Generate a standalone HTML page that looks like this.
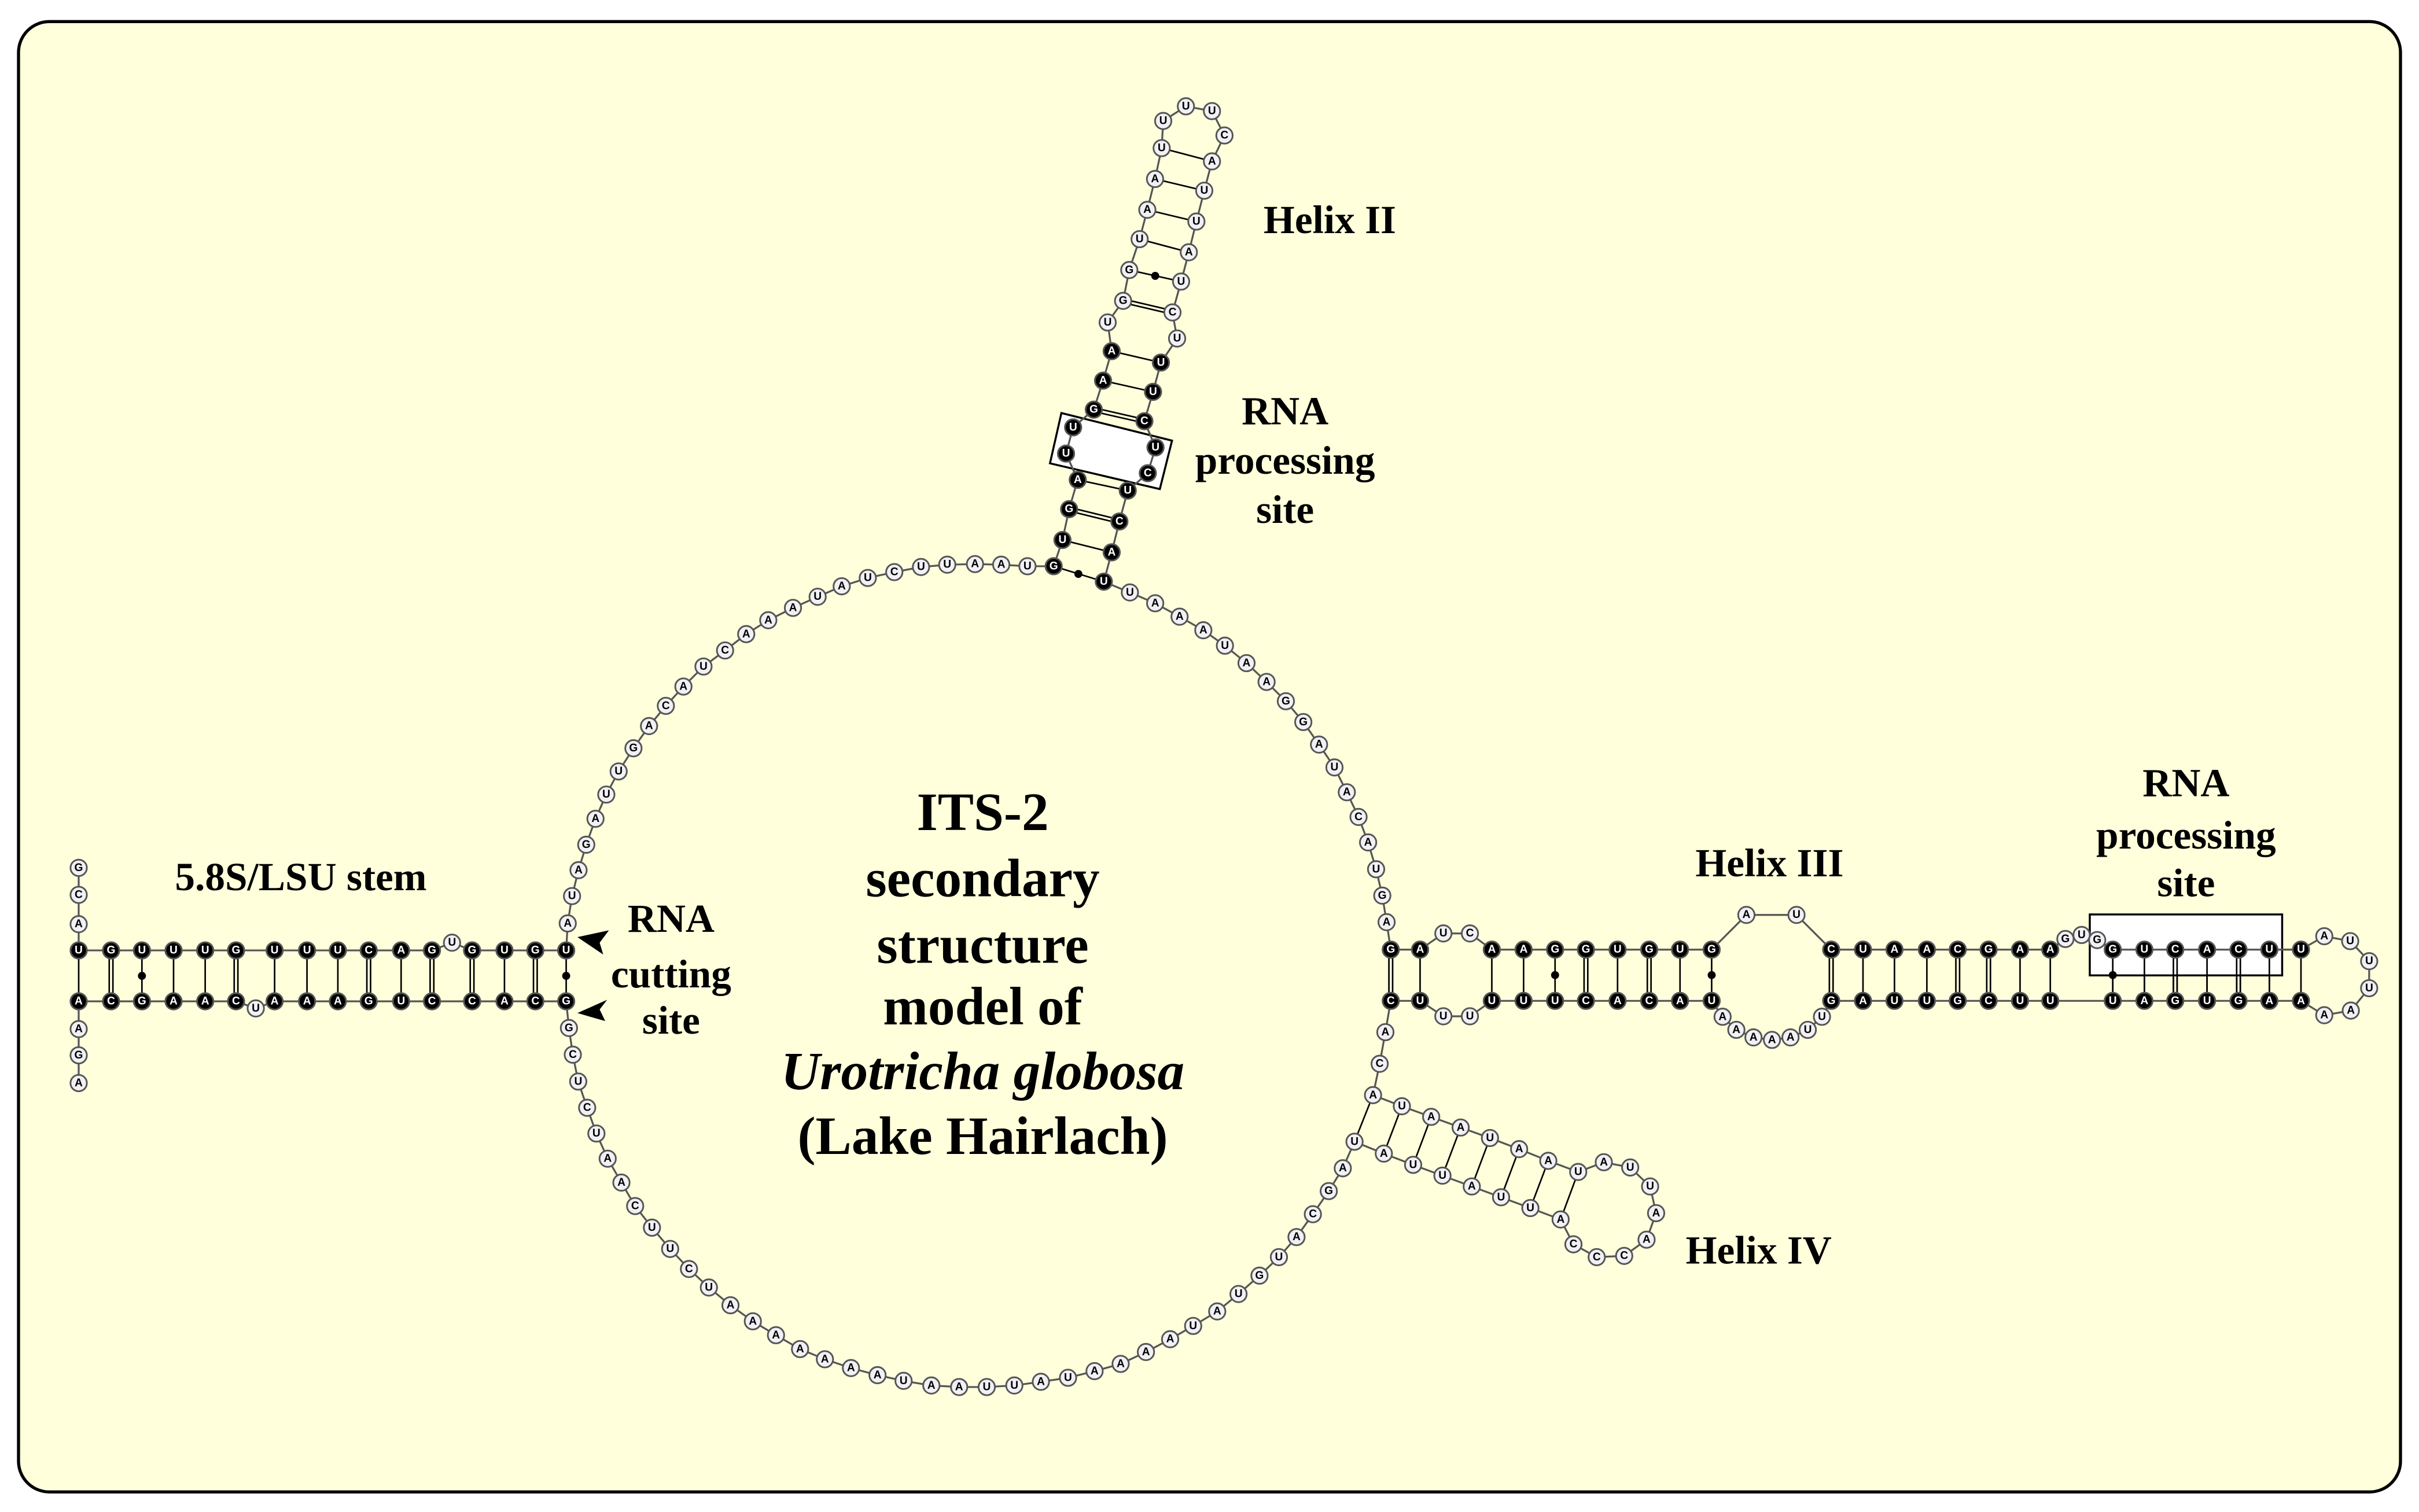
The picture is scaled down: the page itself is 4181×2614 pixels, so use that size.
<!DOCTYPE html>
<html><head><meta charset="utf-8"><style>
html,body{margin:0;padding:0;background:#fff;}
svg{display:block;}
.w circle{r:5.3px;fill:#f0f0f5;stroke:#555;stroke-width:1.1;}
.b circle{r:5.3px;fill:#000;stroke:#555;stroke-width:1.1;}
.w text,.b text{font-family:"Liberation Sans",sans-serif;font-weight:bold;font-size:7.2px;text-anchor:middle;dominant-baseline:central;}
.w text{fill:#000;}
.b text{fill:#fff;}
.pr line{stroke:#000;stroke-width:1;}
.dot{fill:#000;}
.lab{font-family:"Liberation Serif",serif;font-weight:bold;font-size:26px;text-anchor:middle;fill:#000;}
.tit{font-family:"Liberation Serif",serif;font-weight:bold;font-size:35px;text-anchor:middle;fill:#000;}
</style></head><body>
<svg width="4181" height="2614" viewBox="0 0 1568 980" preserveAspectRatio="none" xmlns="http://www.w3.org/2000/svg">
<rect x="0" y="0" width="1568" height="980" fill="#fff"/>
<rect x="12" y="14" width="1544" height="953" rx="20" ry="20" fill="#ffffdc" stroke="#000" stroke-width="2"/>

<!-- backbone -->
<polyline fill="none" stroke="#555" stroke-width="1.2" points="
51,562.5 51,580 51,599 51,616 72,616 92,616 112.5,616 133,616 153,616 178,616 199,616 219,616 239,616 260,616 280,616 293,611 306,616 327,616 347,616 367,616
368,598.5 370.8,580.8 375,564 380,547.5 386,530.7 393,515 401,500 410.6,485 420.7,470.6 431.6,457.5 443,445 456,432 470,421.6 483.7,411 498,402 514,394 530,386.8 545.6,380 562.5,374.6 579.7,370.8 597,367.5 614,366 632,365.6 649,366 666,367
683,367 688.7,350 693,330 698.6,311 691,294 695.6,277 709,265.5 715,246.7 720.6,227.6 718,209 728,195 732,175 738.7,155 743.7,136 748.7,116 753,96 754,78.4 768.7,68.9 785.6,72 793.7,87.8 785.6,104.6 780.6,123.6 775.5,143.6 770.6,163.5 765.6,182.5 760,202.5 763,219.4 752.5,235 747.4,254 741.8,273 749,290 744,306.7 731,318 725.6,338 720.6,358 715.5,377
732.4,384 748.8,391 764.6,399.7 780,408.5 794,418.5 808,429.8 821,442 833.5,454.5 844.8,468 855,482.6 865,497.4 873,513.5 880.6,529.5 886.8,546 892,563.4 896,580.5 898.8,597.7
901.5,615.5 920.5,615.5 935.6,605 952.8,605 967,615.5 987.6,615.5 1008,615.5 1028,615.5 1048.5,615.5 1069,615.5 1089,615.5 1109.5,615.5 1132,593 1164.5,593 1187,615.5 1207.6,615.5 1228,615.5 1249,615.5 1269,615.5 1289,615.5 1309.4,615.5 1329,615.5 1338.8,608.6 1349.3,606 1359.4,609.3 1369.5,615.5 1390,615.5 1410,615.5 1430.6,615.5 1451,615.5 1471,615.5 1491.5,615.5
1506.6,606.8 1523.4,610 1535.7,623 1535.7,640.5 1523.8,655 1506.6,658
1491.5,648.7 1471,648.7 1451,648.7 1430.6,648.7 1410,648.7 1390,648.7 1369.5,648.7 1329,648.7 1309.4,648.7 1289,648.7 1269,648.7 1249,648.7 1228,648.7 1207.6,648.7 1187,648.7 1181,659 1171.8,667.5 1160.6,672.4 1148.6,674 1136.6,672.4 1125.5,667.5 1116.6,659 1109.5,648.7 1089,648.7 1069,648.7 1048.5,648.7 1028,648.7 1008,648.7 987.6,648.7 967,648.7 952.8,658.7 935.6,658.7 920.5,648.7 901.5,648.7
898,669 894.3,689.5 890,709.8 908.7,717 927.7,723.9 946.8,730.8 965.8,737.6 984.7,744.8 1003.6,752.4 1023,759.6 1039.6,753.3 1056.7,756.7 1069.6,769 1073.5,786.3 1067.3,803.5 1052.8,814 1035,814.8 1019.9,806.5 1011.6,790.4 992,783 973,776 954,769 935,762 916,755 897,747.7 878,740 870.4,757.2 861.3,772
851,787 840.4,801.8 829,814.8 816.4,826.8 802.8,838.7 789,850 773.4,859.4 758.5,868 742.8,876.3 726.4,884 709.5,888.7 692.3,893 674.7,895.6 657.5,898 639.6,899 621.7,899 603.7,898 585.7,895 568.8,891.3 551.6,886.7 534.7,881 518.6,874.4 503,865.4 488,856.4 473.5,846 459.5,834.5 446.6,822.5 434.4,809.5 422.6,795.7 411.7,781.7 402.8,766.5 393.9,751 386.6,734.7 380.6,718 374.8,701 371.3,683.6 368.8,666.3
367,649 347,649 327,649 306,649 280,649 260,649 239,649 219,649 199,649 178,649 165.8,653.6 153,649 133,649 112.5,649 92,649 72,649 51,649 51,667 51,684 51,702"/>

<!-- pairs -->
<g class="pr">
<!-- left stem -->
<line x1="51" y1="616" x2="51" y2="649"/>
<line x1="70.8" y1="616" x2="70.8" y2="649"/><line x1="73.2" y1="616" x2="73.2" y2="649"/>
<line x1="92" y1="616" x2="92" y2="649"/>
<line x1="112.5" y1="616" x2="112.5" y2="649"/>
<line x1="133" y1="616" x2="133" y2="649"/>
<line x1="151.8" y1="616" x2="151.8" y2="649"/><line x1="154.2" y1="616" x2="154.2" y2="649"/>
<line x1="178" y1="616" x2="178" y2="649"/>
<line x1="199" y1="616" x2="199" y2="649"/>
<line x1="219" y1="616" x2="219" y2="649"/>
<line x1="237.8" y1="616" x2="237.8" y2="649"/><line x1="240.2" y1="616" x2="240.2" y2="649"/>
<line x1="260" y1="616" x2="260" y2="649"/>
<line x1="278.8" y1="616" x2="278.8" y2="649"/><line x1="281.2" y1="616" x2="281.2" y2="649"/>
<line x1="304.8" y1="616" x2="304.8" y2="649"/><line x1="307.2" y1="616" x2="307.2" y2="649"/>
<line x1="327" y1="616" x2="327" y2="649"/>
<line x1="345.8" y1="616" x2="345.8" y2="649"/><line x1="348.2" y1="616" x2="348.2" y2="649"/>
<line x1="367" y1="616" x2="367" y2="649"/>
<!-- helix II -->
<line x1="683" y1="367" x2="715.5" y2="377"/>
<line x1="688.7" y1="350" x2="720.6" y2="358"/>
<line x1="693" y1="328.8" x2="725.6" y2="336.8"/><line x1="693" y1="331.2" x2="725.6" y2="339.2"/>
<line x1="698.6" y1="311" x2="731" y2="318"/>
<line x1="709" y1="264.3" x2="741.8" y2="271.8"/><line x1="709" y1="266.7" x2="741.8" y2="274.2"/>
<line x1="715" y1="246.7" x2="747.4" y2="254"/>
<line x1="720.6" y1="227.6" x2="752.5" y2="235"/>
<line x1="728" y1="193.8" x2="760" y2="201.3"/><line x1="728" y1="196.2" x2="760" y2="203.7"/>
<line x1="732" y1="175" x2="765.6" y2="182.5"/>
<line x1="738.7" y1="155" x2="770.6" y2="163.5"/>
<line x1="743.7" y1="136" x2="775.5" y2="143.6"/>
<line x1="748.7" y1="116" x2="780.6" y2="123.6"/>
<line x1="753" y1="96" x2="785.6" y2="104.6"/>
<!-- helix III -->
<line x1="900.3" y1="615.5" x2="900.3" y2="648.7"/><line x1="902.7" y1="615.5" x2="902.7" y2="648.7"/>
<line x1="920.5" y1="615.5" x2="920.5" y2="648.7"/>
<line x1="967" y1="615.5" x2="967" y2="648.7"/>
<line x1="987.6" y1="615.5" x2="987.6" y2="648.7"/>
<line x1="1008" y1="615.5" x2="1008" y2="648.7"/>
<line x1="1026.8" y1="615.5" x2="1026.8" y2="648.7"/><line x1="1029.2" y1="615.5" x2="1029.2" y2="648.7"/>
<line x1="1048.5" y1="615.5" x2="1048.5" y2="648.7"/>
<line x1="1067.8" y1="615.5" x2="1067.8" y2="648.7"/><line x1="1070.2" y1="615.5" x2="1070.2" y2="648.7"/>
<line x1="1089" y1="615.5" x2="1089" y2="648.7"/>
<line x1="1109.5" y1="615.5" x2="1109.5" y2="648.7"/>
<line x1="1185.8" y1="615.5" x2="1185.8" y2="648.7"/><line x1="1188.2" y1="615.5" x2="1188.2" y2="648.7"/>
<line x1="1207.6" y1="615.5" x2="1207.6" y2="648.7"/>
<line x1="1228" y1="615.5" x2="1228" y2="648.7"/>
<line x1="1249" y1="615.5" x2="1249" y2="648.7"/>
<line x1="1267.8" y1="615.5" x2="1267.8" y2="648.7"/><line x1="1270.2" y1="615.5" x2="1270.2" y2="648.7"/>
<line x1="1287.8" y1="615.5" x2="1287.8" y2="648.7"/><line x1="1290.2" y1="615.5" x2="1290.2" y2="648.7"/>
<line x1="1309.4" y1="615.5" x2="1309.4" y2="648.7"/>
<line x1="1329" y1="615.5" x2="1329" y2="648.7"/>
<line x1="1369.5" y1="615.5" x2="1369.5" y2="648.7"/>
<line x1="1390" y1="615.5" x2="1390" y2="648.7"/>
<line x1="1408.8" y1="615.5" x2="1408.8" y2="648.7"/><line x1="1411.2" y1="615.5" x2="1411.2" y2="648.7"/>
<line x1="1430.6" y1="615.5" x2="1430.6" y2="648.7"/>
<line x1="1449.8" y1="615.5" x2="1449.8" y2="648.7"/><line x1="1452.2" y1="615.5" x2="1452.2" y2="648.7"/>
<line x1="1471" y1="615.5" x2="1471" y2="648.7"/>
<line x1="1491.5" y1="615.5" x2="1491.5" y2="648.7"/>
<!-- helix IV -->
<line x1="890" y1="709.8" x2="878" y2="740"/>
<line x1="908.7" y1="717" x2="897" y2="747.7"/>
<line x1="927.7" y1="723.9" x2="916" y2="755"/>
<line x1="946.8" y1="730.8" x2="935" y2="762"/>
<line x1="965.8" y1="737.6" x2="954" y2="769"/>
<line x1="984.7" y1="744.8" x2="973" y2="776"/>
<line x1="1003.6" y1="752.4" x2="992" y2="783"/>
<line x1="1023" y1="759.6" x2="1011.6" y2="790.4"/>
</g>

<!-- processing site boxes -->
<polygon points="688,267.7 759.7,285.6 751.8,317 680.6,300.3" fill="#fff" stroke="#000" stroke-width="1.3"/>
<rect x="1354.6" y="592.7" width="124.7" height="39.5" fill="#fff" stroke="#000" stroke-width="1.3"/>
<!-- redraw lines crossing the right box -->
<g class="pr">
<line x1="1369.5" y1="615.5" x2="1369.5" y2="648.7"/>
<line x1="1390" y1="615.5" x2="1390" y2="648.7"/>
<line x1="1408.8" y1="615.5" x2="1408.8" y2="648.7"/><line x1="1411.2" y1="615.5" x2="1411.2" y2="648.7"/>
<line x1="1430.6" y1="615.5" x2="1430.6" y2="648.7"/>
<line x1="1449.8" y1="615.5" x2="1449.8" y2="648.7"/><line x1="1452.2" y1="615.5" x2="1452.2" y2="648.7"/>
<line x1="1471" y1="615.5" x2="1471" y2="648.7"/>
</g>
<polyline fill="none" stroke="#555" stroke-width="1.2" points="1359.4,609.3 1369.5,615.5 1390,615.5 1410,615.5 1430.6,615.5 1451,615.5 1471,615.5 1491.5,615.5"/>
<polyline fill="none" stroke="#555" stroke-width="1.2" points="691,294 695.6,277 709,265.5"/>
<polyline fill="none" stroke="#555" stroke-width="1.2" points="741.8,273 749,290 744,306.7 731,318"/>
<polyline fill="none" stroke="#555" stroke-width="1.2" points="698.6,311 691,294"/>

<!-- GU dots -->
<circle class="dot" cx="92" cy="632.5" r="2.6"/>
<circle class="dot" cx="367" cy="632.5" r="2.6"/>
<circle class="dot" cx="699" cy="372" r="2.6"/>
<circle class="dot" cx="748.8" cy="178.8" r="2.6"/>
<circle class="dot" cx="1008" cy="632" r="2.6"/>
<circle class="dot" cx="1109.5" cy="632" r="2.6"/>
<circle class="dot" cx="1369.5" cy="632" r="2.6"/>

<!-- black nucleotides -->
<g class="b">
<circle cx="51" cy="616"/><text x="51" y="616">U</text>
<circle cx="72" cy="616"/><text x="72" y="616">G</text>
<circle cx="92" cy="616"/><text x="92" y="616">U</text>
<circle cx="112.5" cy="616"/><text x="112.5" y="616">U</text>
<circle cx="133" cy="616"/><text x="133" y="616">U</text>
<circle cx="153" cy="616"/><text x="153" y="616">G</text>
<circle cx="178" cy="616"/><text x="178" y="616">U</text>
<circle cx="199" cy="616"/><text x="199" y="616">U</text>
<circle cx="219" cy="616"/><text x="219" y="616">U</text>
<circle cx="239" cy="616"/><text x="239" y="616">C</text>
<circle cx="260" cy="616"/><text x="260" y="616">A</text>
<circle cx="280" cy="616"/><text x="280" y="616">G</text>
<circle cx="306" cy="616"/><text x="306" y="616">G</text>
<circle cx="327" cy="616"/><text x="327" y="616">U</text>
<circle cx="347" cy="616"/><text x="347" y="616">G</text>
<circle cx="367" cy="616"/><text x="367" y="616">U</text>
<circle cx="51" cy="649"/><text x="51" y="649">A</text>
<circle cx="72" cy="649"/><text x="72" y="649">C</text>
<circle cx="92" cy="649"/><text x="92" y="649">G</text>
<circle cx="112.5" cy="649"/><text x="112.5" y="649">A</text>
<circle cx="133" cy="649"/><text x="133" y="649">A</text>
<circle cx="153" cy="649"/><text x="153" y="649">C</text>
<circle cx="178" cy="649"/><text x="178" y="649">A</text>
<circle cx="199" cy="649"/><text x="199" y="649">A</text>
<circle cx="219" cy="649"/><text x="219" y="649">A</text>
<circle cx="239" cy="649"/><text x="239" y="649">G</text>
<circle cx="260" cy="649"/><text x="260" y="649">U</text>
<circle cx="280" cy="649"/><text x="280" y="649">C</text>
<circle cx="306" cy="649"/><text x="306" y="649">C</text>
<circle cx="327" cy="649"/><text x="327" y="649">A</text>
<circle cx="347" cy="649"/><text x="347" y="649">C</text>
<circle cx="367" cy="649"/><text x="367" y="649">G</text>
<!-- helix II black -->
<circle cx="683" cy="367"/><text x="683" y="367">G</text>
<circle cx="688.7" cy="350"/><text x="688.7" y="350">U</text>
<circle cx="693" cy="330"/><text x="693" y="330">G</text>
<circle cx="698.6" cy="311"/><text x="698.6" y="311">A</text>
<circle cx="691" cy="294"/><text x="691" y="294">U</text>
<circle cx="695.6" cy="277"/><text x="695.6" y="277">U</text>
<circle cx="709" cy="265.5"/><text x="709" y="265.5">G</text>
<circle cx="715" cy="246.7"/><text x="715" y="246.7">A</text>
<circle cx="720.6" cy="227.6"/><text x="720.6" y="227.6">A</text>
<circle cx="752.5" cy="235"/><text x="752.5" y="235">U</text>
<circle cx="747.4" cy="254"/><text x="747.4" y="254">U</text>
<circle cx="741.8" cy="273"/><text x="741.8" y="273">C</text>
<circle cx="749" cy="290"/><text x="749" y="290">U</text>
<circle cx="744" cy="306.7"/><text x="744" y="306.7">C</text>
<circle cx="731" cy="318"/><text x="731" y="318">U</text>
<circle cx="725.6" cy="338"/><text x="725.6" y="338">C</text>
<circle cx="720.6" cy="358"/><text x="720.6" y="358">A</text>
<circle cx="715.5" cy="377"/><text x="715.5" y="377">U</text>
<!-- helix III black top -->
<circle cx="901.5" cy="615.5"/><text x="901.5" y="615.5">G</text>
<circle cx="920.5" cy="615.5"/><text x="920.5" y="615.5">A</text>
<circle cx="967" cy="615.5"/><text x="967" y="615.5">A</text>
<circle cx="987.6" cy="615.5"/><text x="987.6" y="615.5">A</text>
<circle cx="1008" cy="615.5"/><text x="1008" y="615.5">G</text>
<circle cx="1028" cy="615.5"/><text x="1028" y="615.5">G</text>
<circle cx="1048.5" cy="615.5"/><text x="1048.5" y="615.5">U</text>
<circle cx="1069" cy="615.5"/><text x="1069" y="615.5">G</text>
<circle cx="1089" cy="615.5"/><text x="1089" y="615.5">U</text>
<circle cx="1109.5" cy="615.5"/><text x="1109.5" y="615.5">G</text>
<circle cx="1187" cy="615.5"/><text x="1187" y="615.5">C</text>
<circle cx="1207.6" cy="615.5"/><text x="1207.6" y="615.5">U</text>
<circle cx="1228" cy="615.5"/><text x="1228" y="615.5">A</text>
<circle cx="1249" cy="615.5"/><text x="1249" y="615.5">A</text>
<circle cx="1269" cy="615.5"/><text x="1269" y="615.5">C</text>
<circle cx="1289" cy="615.5"/><text x="1289" y="615.5">G</text>
<circle cx="1309.4" cy="615.5"/><text x="1309.4" y="615.5">A</text>
<circle cx="1329" cy="615.5"/><text x="1329" y="615.5">A</text>
<circle cx="1369.5" cy="615.5"/><text x="1369.5" y="615.5">G</text>
<circle cx="1390" cy="615.5"/><text x="1390" y="615.5">U</text>
<circle cx="1410" cy="615.5"/><text x="1410" y="615.5">C</text>
<circle cx="1430.6" cy="615.5"/><text x="1430.6" y="615.5">A</text>
<circle cx="1451" cy="615.5"/><text x="1451" y="615.5">C</text>
<circle cx="1471" cy="615.5"/><text x="1471" y="615.5">U</text>
<circle cx="1491.5" cy="615.5"/><text x="1491.5" y="615.5">U</text>
<!-- helix III black bottom -->
<circle cx="901.5" cy="648.7"/><text x="901.5" y="648.7">C</text>
<circle cx="920.5" cy="648.7"/><text x="920.5" y="648.7">U</text>
<circle cx="967" cy="648.7"/><text x="967" y="648.7">U</text>
<circle cx="987.6" cy="648.7"/><text x="987.6" y="648.7">U</text>
<circle cx="1008" cy="648.7"/><text x="1008" y="648.7">U</text>
<circle cx="1028" cy="648.7"/><text x="1028" y="648.7">C</text>
<circle cx="1048.5" cy="648.7"/><text x="1048.5" y="648.7">A</text>
<circle cx="1069" cy="648.7"/><text x="1069" y="648.7">C</text>
<circle cx="1089" cy="648.7"/><text x="1089" y="648.7">A</text>
<circle cx="1109.5" cy="648.7"/><text x="1109.5" y="648.7">U</text>
<circle cx="1187" cy="648.7"/><text x="1187" y="648.7">G</text>
<circle cx="1207.6" cy="648.7"/><text x="1207.6" y="648.7">A</text>
<circle cx="1228" cy="648.7"/><text x="1228" y="648.7">U</text>
<circle cx="1249" cy="648.7"/><text x="1249" y="648.7">U</text>
<circle cx="1269" cy="648.7"/><text x="1269" y="648.7">G</text>
<circle cx="1289" cy="648.7"/><text x="1289" y="648.7">C</text>
<circle cx="1309.4" cy="648.7"/><text x="1309.4" y="648.7">U</text>
<circle cx="1329" cy="648.7"/><text x="1329" y="648.7">U</text>
<circle cx="1369.5" cy="648.7"/><text x="1369.5" y="648.7">U</text>
<circle cx="1390" cy="648.7"/><text x="1390" y="648.7">A</text>
<circle cx="1410" cy="648.7"/><text x="1410" y="648.7">G</text>
<circle cx="1430.6" cy="648.7"/><text x="1430.6" y="648.7">U</text>
<circle cx="1451" cy="648.7"/><text x="1451" y="648.7">G</text>
<circle cx="1471" cy="648.7"/><text x="1471" y="648.7">A</text>
<circle cx="1491.5" cy="648.7"/><text x="1491.5" y="648.7">A</text>
</g>

<!-- white nucleotides -->
<g class="w">
<circle cx="51" cy="562.5"/><text x="51" y="562.5">G</text>
<circle cx="51" cy="580"/><text x="51" y="580">C</text>
<circle cx="51" cy="599"/><text x="51" y="599">A</text>
<circle cx="293" cy="611"/><text x="293" y="611">U</text>
<circle cx="165.8" cy="653.6"/><text x="165.8" y="653.6">U</text>
<circle cx="51" cy="667"/><text x="51" y="667">A</text>
<circle cx="51" cy="684"/><text x="51" y="684">G</text>
<circle cx="51" cy="702"/><text x="51" y="702">A</text>
<!-- upper-left arc -->
<circle cx="368" cy="598.5"/><text x="368" y="598.5">A</text>
<circle cx="370.8" cy="580.8"/><text x="370.8" y="580.8">U</text>
<circle cx="375" cy="564"/><text x="375" y="564">A</text>
<circle cx="380" cy="547.5"/><text x="380" y="547.5">G</text>
<circle cx="386" cy="530.7"/><text x="386" y="530.7">A</text>
<circle cx="393" cy="515"/><text x="393" y="515">U</text>
<circle cx="401" cy="500"/><text x="401" y="500">U</text>
<circle cx="410.6" cy="485"/><text x="410.6" y="485">G</text>
<circle cx="420.7" cy="470.6"/><text x="420.7" y="470.6">A</text>
<circle cx="431.6" cy="457.5"/><text x="431.6" y="457.5">C</text>
<circle cx="443" cy="445"/><text x="443" y="445">A</text>
<circle cx="456" cy="432"/><text x="456" y="432">U</text>
<circle cx="470" cy="421.6"/><text x="470" y="421.6">C</text>
<circle cx="483.7" cy="411"/><text x="483.7" y="411">A</text>
<circle cx="498" cy="402"/><text x="498" y="402">A</text>
<circle cx="514" cy="394"/><text x="514" y="394">A</text>
<circle cx="530" cy="386.8"/><text x="530" y="386.8">U</text>
<circle cx="545.6" cy="380"/><text x="545.6" y="380">A</text>
<circle cx="562.5" cy="374.6"/><text x="562.5" y="374.6">U</text>
<circle cx="579.7" cy="370.8"/><text x="579.7" y="370.8">C</text>
<circle cx="597" cy="367.5"/><text x="597" y="367.5">U</text>
<circle cx="614" cy="366"/><text x="614" y="366">U</text>
<circle cx="632" cy="365.6"/><text x="632" y="365.6">A</text>
<circle cx="649" cy="366"/><text x="649" y="366">A</text>
<circle cx="666" cy="367"/><text x="666" y="367">U</text>
<!-- helix II white -->
<circle cx="718" cy="209"/><text x="718" y="209">U</text>
<circle cx="728" cy="195"/><text x="728" y="195">G</text>
<circle cx="732" cy="175"/><text x="732" y="175">G</text>
<circle cx="738.7" cy="155"/><text x="738.7" y="155">U</text>
<circle cx="743.7" cy="136"/><text x="743.7" y="136">A</text>
<circle cx="748.7" cy="116"/><text x="748.7" y="116">A</text>
<circle cx="753" cy="96"/><text x="753" y="96">U</text>
<circle cx="754" cy="78.4"/><text x="754" y="78.4">U</text>
<circle cx="768.7" cy="68.9"/><text x="768.7" y="68.9">U</text>
<circle cx="785.6" cy="72"/><text x="785.6" y="72">U</text>
<circle cx="793.7" cy="87.8"/><text x="793.7" y="87.8">C</text>
<circle cx="785.6" cy="104.6"/><text x="785.6" y="104.6">A</text>
<circle cx="780.6" cy="123.6"/><text x="780.6" y="123.6">U</text>
<circle cx="775.5" cy="143.6"/><text x="775.5" y="143.6">U</text>
<circle cx="770.6" cy="163.5"/><text x="770.6" y="163.5">A</text>
<circle cx="765.6" cy="182.5"/><text x="765.6" y="182.5">U</text>
<circle cx="760" cy="202.5"/><text x="760" y="202.5">C</text>
<circle cx="763" cy="219.4"/><text x="763" y="219.4">U</text>
<!-- upper-right arc -->
<circle cx="732.4" cy="384"/><text x="732.4" y="384">U</text>
<circle cx="748.8" cy="391"/><text x="748.8" y="391">A</text>
<circle cx="764.6" cy="399.7"/><text x="764.6" y="399.7">A</text>
<circle cx="780" cy="408.5"/><text x="780" y="408.5">A</text>
<circle cx="794" cy="418.5"/><text x="794" y="418.5">U</text>
<circle cx="808" cy="429.8"/><text x="808" y="429.8">A</text>
<circle cx="821" cy="442"/><text x="821" y="442">A</text>
<circle cx="833.5" cy="454.5"/><text x="833.5" y="454.5">G</text>
<circle cx="844.8" cy="468"/><text x="844.8" y="468">G</text>
<circle cx="855" cy="482.6"/><text x="855" y="482.6">A</text>
<circle cx="865" cy="497.4"/><text x="865" y="497.4">U</text>
<circle cx="873" cy="513.5"/><text x="873" y="513.5">A</text>
<circle cx="880.6" cy="529.5"/><text x="880.6" y="529.5">C</text>
<circle cx="886.8" cy="546"/><text x="886.8" y="546">A</text>
<circle cx="892" cy="563.4"/><text x="892" y="563.4">U</text>
<circle cx="896" cy="580.5"/><text x="896" y="580.5">G</text>
<circle cx="898.8" cy="597.7"/><text x="898.8" y="597.7">A</text>
<!-- helix III white -->
<circle cx="935.6" cy="605"/><text x="935.6" y="605">U</text>
<circle cx="952.8" cy="605"/><text x="952.8" y="605">C</text>
<circle cx="935.6" cy="658.7"/><text x="935.6" y="658.7">U</text>
<circle cx="952.8" cy="658.7"/><text x="952.8" y="658.7">U</text>
<circle cx="1132" cy="593"/><text x="1132" y="593">A</text>
<circle cx="1164.5" cy="593"/><text x="1164.5" y="593">U</text>
<circle cx="1116.6" cy="659"/><text x="1116.6" y="659">A</text>
<circle cx="1125.5" cy="667.5"/><text x="1125.5" y="667.5">A</text>
<circle cx="1136.6" cy="672.4"/><text x="1136.6" y="672.4">A</text>
<circle cx="1148.6" cy="674"/><text x="1148.6" y="674">A</text>
<circle cx="1160.6" cy="672.4"/><text x="1160.6" y="672.4">A</text>
<circle cx="1171.8" cy="667.5"/><text x="1171.8" y="667.5">U</text>
<circle cx="1181" cy="659"/><text x="1181" y="659">U</text>
<circle cx="1338.8" cy="608.6"/><text x="1338.8" y="608.6">G</text>
<circle cx="1349.3" cy="606"/><text x="1349.3" y="606">U</text>
<circle cx="1359.4" cy="609.3"/><text x="1359.4" y="609.3">G</text>
<circle cx="1506.6" cy="606.8"/><text x="1506.6" y="606.8">A</text>
<circle cx="1523.4" cy="610"/><text x="1523.4" y="610">U</text>
<circle cx="1535.7" cy="623"/><text x="1535.7" y="623">U</text>
<circle cx="1535.7" cy="640.5"/><text x="1535.7" y="640.5">U</text>
<circle cx="1523.8" cy="655"/><text x="1523.8" y="655">A</text>
<circle cx="1506.6" cy="658"/><text x="1506.6" y="658">A</text>
<!-- right side below helix III -->
<circle cx="898" cy="669"/><text x="898" y="669">A</text>
<circle cx="894.3" cy="689.5"/><text x="894.3" y="689.5">C</text>
<!-- helix IV -->
<circle cx="890" cy="709.8"/><text x="890" y="709.8">A</text>
<circle cx="908.7" cy="717"/><text x="908.7" y="717">U</text>
<circle cx="927.7" cy="723.9"/><text x="927.7" y="723.9">A</text>
<circle cx="946.8" cy="730.8"/><text x="946.8" y="730.8">A</text>
<circle cx="965.8" cy="737.6"/><text x="965.8" y="737.6">U</text>
<circle cx="984.7" cy="744.8"/><text x="984.7" y="744.8">A</text>
<circle cx="1003.6" cy="752.4"/><text x="1003.6" y="752.4">A</text>
<circle cx="1023" cy="759.6"/><text x="1023" y="759.6">U</text>
<circle cx="1039.6" cy="753.3"/><text x="1039.6" y="753.3">A</text>
<circle cx="1056.7" cy="756.7"/><text x="1056.7" y="756.7">U</text>
<circle cx="1069.6" cy="769"/><text x="1069.6" y="769">U</text>
<circle cx="1073.5" cy="786.3"/><text x="1073.5" y="786.3">A</text>
<circle cx="1067.3" cy="803.5"/><text x="1067.3" y="803.5">A</text>
<circle cx="1052.8" cy="814"/><text x="1052.8" y="814">C</text>
<circle cx="1035" cy="814.8"/><text x="1035" y="814.8">C</text>
<circle cx="1019.9" cy="806.5"/><text x="1019.9" y="806.5">C</text>
<circle cx="1011.6" cy="790.4"/><text x="1011.6" y="790.4">A</text>
<circle cx="992" cy="783"/><text x="992" y="783">U</text>
<circle cx="973" cy="776"/><text x="973" y="776">U</text>
<circle cx="954" cy="769"/><text x="954" y="769">A</text>
<circle cx="935" cy="762"/><text x="935" y="762">U</text>
<circle cx="916" cy="755"/><text x="916" y="755">U</text>
<circle cx="897" cy="747.7"/><text x="897" y="747.7">A</text>
<circle cx="878" cy="740"/><text x="878" y="740">U</text>
<circle cx="870.4" cy="757.2"/><text x="870.4" y="757.2">A</text>
<circle cx="861.3" cy="772"/><text x="861.3" y="772">G</text>
<!-- bottom arc -->
<circle cx="851" cy="787"/><text x="851" y="787">C</text>
<circle cx="840.4" cy="801.8"/><text x="840.4" y="801.8">A</text>
<circle cx="829" cy="814.8"/><text x="829" y="814.8">U</text>
<circle cx="816.4" cy="826.8"/><text x="816.4" y="826.8">G</text>
<circle cx="802.8" cy="838.7"/><text x="802.8" y="838.7">U</text>
<circle cx="789" cy="850"/><text x="789" y="850">A</text>
<circle cx="773.4" cy="859.4"/><text x="773.4" y="859.4">U</text>
<circle cx="758.5" cy="868"/><text x="758.5" y="868">A</text>
<circle cx="742.8" cy="876.3"/><text x="742.8" y="876.3">A</text>
<circle cx="726.4" cy="884"/><text x="726.4" y="884">A</text>
<circle cx="709.5" cy="888.7"/><text x="709.5" y="888.7">A</text>
<circle cx="692.3" cy="893"/><text x="692.3" y="893">U</text>
<circle cx="674.7" cy="895.6"/><text x="674.7" y="895.6">A</text>
<circle cx="657.5" cy="898"/><text x="657.5" y="898">U</text>
<circle cx="639.6" cy="899"/><text x="639.6" y="899">U</text>
<circle cx="621.7" cy="899"/><text x="621.7" y="899">A</text>
<circle cx="603.7" cy="898"/><text x="603.7" y="898">A</text>
<circle cx="585.7" cy="895"/><text x="585.7" y="895">U</text>
<circle cx="568.8" cy="891.3"/><text x="568.8" y="891.3">A</text>
<circle cx="551.6" cy="886.7"/><text x="551.6" y="886.7">A</text>
<circle cx="534.7" cy="881"/><text x="534.7" y="881">A</text>
<circle cx="518.6" cy="874.4"/><text x="518.6" y="874.4">A</text>
<circle cx="503" cy="865.4"/><text x="503" y="865.4">A</text>
<circle cx="488" cy="856.4"/><text x="488" y="856.4">A</text>
<circle cx="473.5" cy="846"/><text x="473.5" y="846">A</text>
<circle cx="459.5" cy="834.5"/><text x="459.5" y="834.5">U</text>
<circle cx="446.6" cy="822.5"/><text x="446.6" y="822.5">C</text>
<circle cx="434.4" cy="809.5"/><text x="434.4" y="809.5">U</text>
<circle cx="422.6" cy="795.7"/><text x="422.6" y="795.7">U</text>
<circle cx="411.7" cy="781.7"/><text x="411.7" y="781.7">C</text>
<circle cx="402.8" cy="766.5"/><text x="402.8" y="766.5">A</text>
<circle cx="393.9" cy="751"/><text x="393.9" y="751">A</text>
<circle cx="386.6" cy="734.7"/><text x="386.6" y="734.7">U</text>
<circle cx="380.6" cy="718"/><text x="380.6" y="718">C</text>
<circle cx="374.8" cy="701"/><text x="374.8" y="701">U</text>
<circle cx="371.3" cy="683.6"/><text x="371.3" y="683.6">C</text>
<circle cx="368.8" cy="666.3"/><text x="368.8" y="666.3">G</text>
</g>

<!-- arrows -->
<polygon points="374.3,607.4 394.7,603 388.7,611 391,618.7" fill="#000"/>
<polygon points="374.3,656.6 393.5,648 388.7,654.3 392.3,661.8" fill="#000"/>

<!-- labels -->
<text class="lab" x="195" y="577">5.8S/LSU stem</text>
<text class="lab" x="435" y="604">RNA</text>
<text class="lab" x="435" y="640">cutting</text>
<text class="lab" x="435" y="670">site</text>
<text class="lab" x="862" y="151">Helix II</text>
<text class="lab" x="833" y="275">RNA</text>
<text class="lab" x="833" y="307">processing</text>
<text class="lab" x="833" y="339">site</text>
<text class="lab" x="1147" y="568">Helix III</text>
<text class="lab" x="1417" y="516">RNA</text>
<text class="lab" x="1417" y="550">processing</text>
<text class="lab" x="1417" y="581">site</text>
<text class="lab" x="1140" y="819">Helix IV</text>

<text class="tit" x="637" y="538">ITS-2</text>
<text class="tit" x="637" y="581">secondary</text>
<text class="tit" x="637" y="624">structure</text>
<text class="tit" x="637" y="664">model of</text>
<text class="tit" x="637" y="706" font-style="italic">Urotricha globosa</text>
<text class="tit" x="637" y="748">(Lake Hairlach)</text>
</svg>
</body></html>
